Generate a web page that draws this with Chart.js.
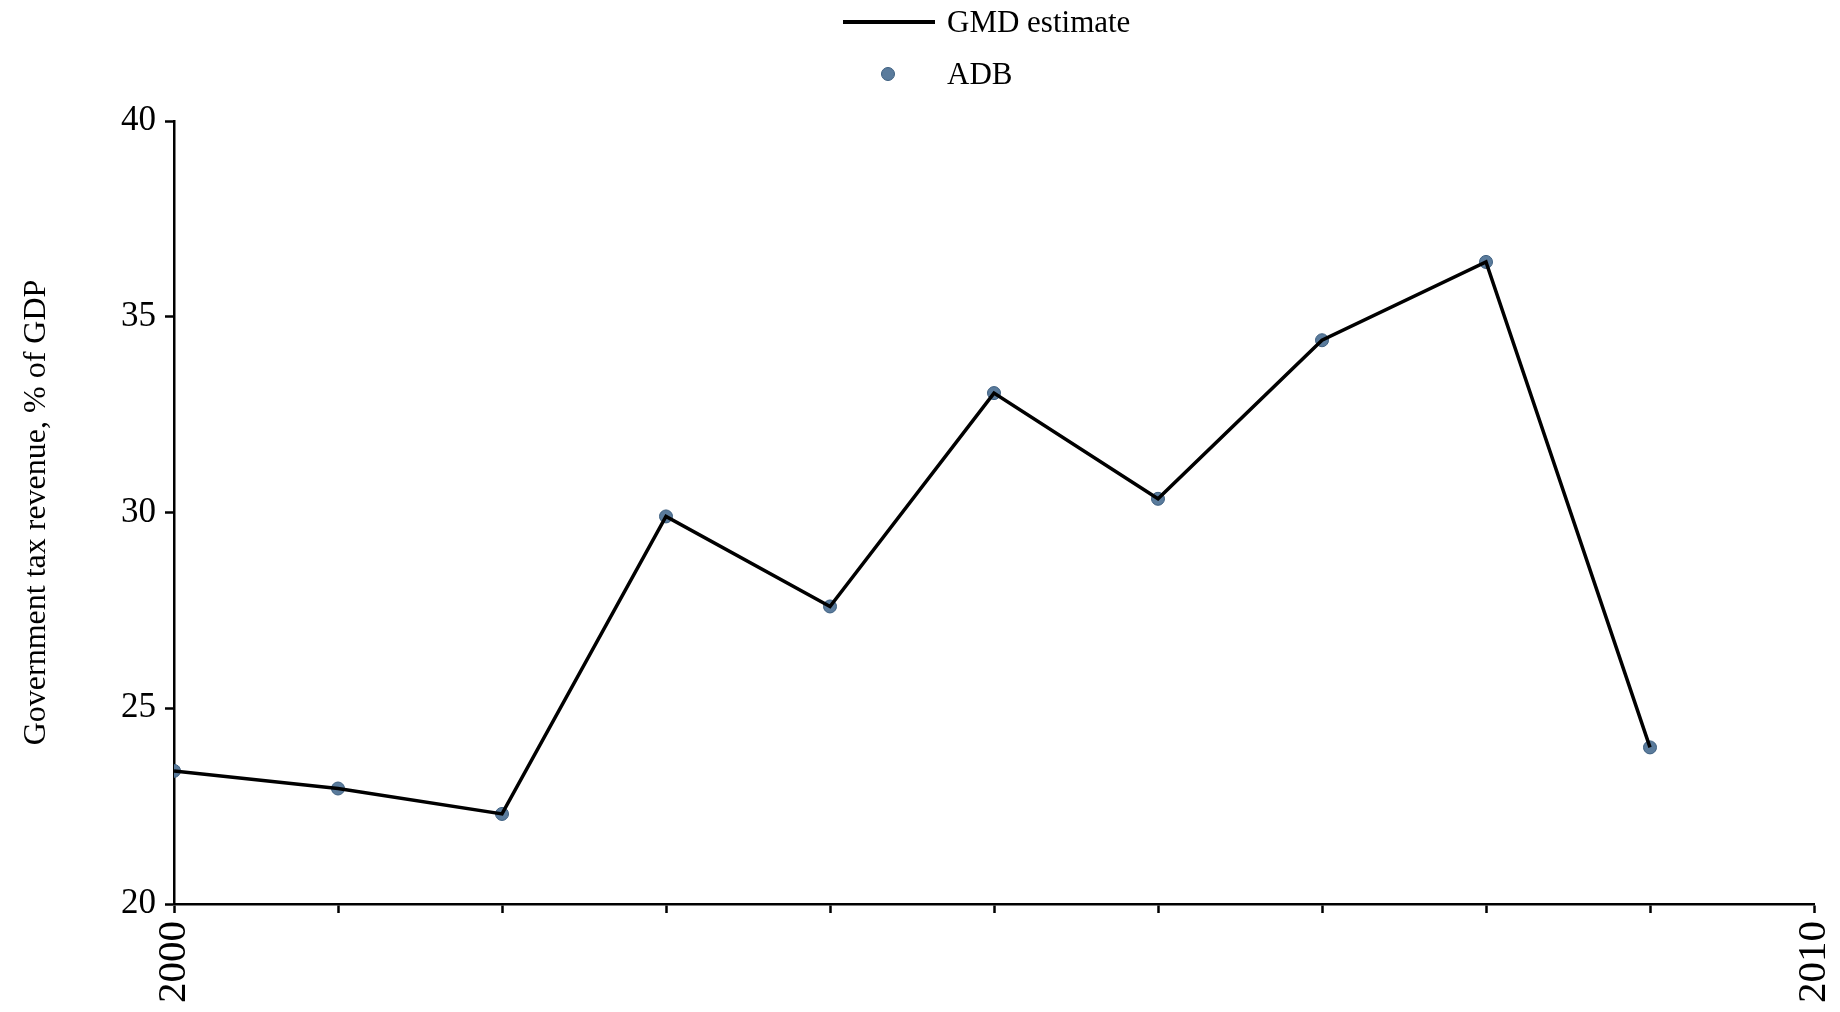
<!DOCTYPE html>
<html lang="en">

<head>
    <meta charset="UTF-8">
    <title>Government tax revenue, % of GDP</title>
    <script src="https://cdn.jsdelivr.net/npm/chart.js"></script>
    <style>
        body {
            margin: 0;
            background: #fff;
        }

        .wrap {
            position: relative;
            width: 1840px;
            height: 1012px;
        }

        .legend-item {
            position: absolute;
            font-family: "Liberation Serif", serif;
            font-size: 31px;
            line-height: 40px;
            color: #000;
            white-space: nowrap;
        }

        .legend-line {
            position: absolute;
            left: 843px;
            top: 20px;
            width: 92px;
            height: 3.5px;
            background: #000;
        }

        .legend-dot {
            position: absolute;
            left: 881px;
            top: 67px;
            width: 12px;
            height: 12px;
            border-radius: 50%;
            background: #5a7b9c;
            border: 1px solid #3d5f80;
        }
    </style>
</head>

<body>
    <div class="wrap">
        <canvas id="taxChart"></canvas>
        <!-- legend stacked vertically like the original -->
        <div class="legend-line"></div>
        <div class="legend-item" style="left:947px; top:2px;">GMD estimate</div>
        <div class="legend-dot"></div>
        <div class="legend-item" style="left:947px; top:54px;">ADB</div>
    </div>

    <script>
        const years = [2000, 2001, 2002, 2003, 2004, 2005, 2006, 2007, 2008, 2009];
        const gmdEstimate = [23.4, 22.95, 22.3, 29.9, 27.6, 33.05, 30.35, 34.4, 36.4, 24.0];
        const adb = [23.4, 22.95, 22.3, 29.9, 27.6, 33.05, 30.35, 34.4, 36.4, 24.0];
        const yTicks = [20, 25, 30, 35, 40];
        const xLabels = [2000, 2010];

        const serif = '"Liberation Serif", "Times New Roman", serif';

        const ctx = document.getElementById('taxChart').getContext('2d');
        new Chart(ctx, {
            type: 'line',
            data: {
                datasets: [
                    {
                        label: 'GMD estimate',
                        data: years.map((y, i) => ({ x: y, y: gmdEstimate[i] })),
                        borderColor: '#000',
                        borderWidth: 3.5,
                        pointRadius: 0,
                        fill: false,
                        tension: 0
                    },
                    {
                        label: 'ADB',
                        data: years.map((y, i) => ({ x: y, y: adb[i] })),
                        showLine: false,
                        pointRadius: 6.5,
                        pointBackgroundColor: '#5a7b9c',
                        pointBorderColor: '#3d5f80',
                        pointBorderWidth: 1
                    }
                ]
            },
            options: {
                responsive: true,
                maintainAspectRatio: false,
                animation: false,
                layout: {
                    padding: { left: 0, top: 121, right: 26, bottom: 0 }
                },
                plugins: {
                    legend: { display: false },
                    tooltip: { enabled: false }
                },
                scales: {
                    x: {
                        type: 'linear',
                        min: 2000,
                        max: 2010,
                        afterFit: s => {
                            s.height = 108;
                            s.paddingLeft = 0;
                            s.paddingRight = 0;
                        },
                        ticks: {
                            stepSize: 1,
                            autoSkip: false,
                            minRotation: 90,
                            maxRotation: 90,
                            padding: 8,
                            color: '#000',
                            font: { family: serif, size: 41 },
                            callback: v => xLabels.includes(v) ? String(v) : ''
                        },
                        grid: {
                            drawOnChartArea: false,
                            drawTicks: true,
                            tickLength: 9,
                            tickColor: '#000',
                            tickWidth: 2.5
                        },
                        border: { display: true, color: '#000', width: 2.5 }
                    },
                    y: {
                        min: 20,
                        max: 40,
                        afterFit: s => {
                            s.width = 174;
                            s.paddingTop = 0;
                            s.paddingBottom = 0;
                        },
                        afterBuildTicks: s => { s.ticks = yTicks.map(v => ({ value: v })); },
                        ticks: {
                            padding: 9,
                            color: '#000',
                            font: { family: serif, size: 35 }
                        },
                        grid: {
                            drawOnChartArea: false,
                            drawTicks: true,
                            tickLength: 9,
                            tickColor: '#000',
                            tickWidth: 2.5
                        },
                        border: { display: true, color: '#000', width: 2.5 },
                        title: {
                            display: true,
                            text: 'Government tax revenue, % of GDP',
                            color: '#000',
                            font: { family: serif, size: 32 },
                            padding: { top: 17, bottom: 0 }
                        }
                    }
                }
            }
        });
    </script>
</body>

</html>
